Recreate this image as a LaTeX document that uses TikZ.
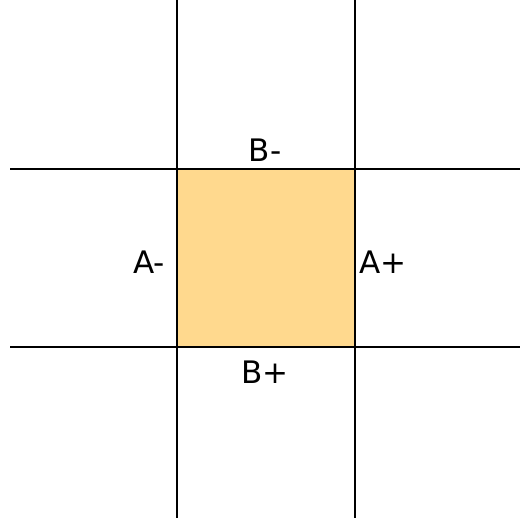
\documentclass[tikz,border=0pt]{standalone}
\usepackage{fontspec}
\setmainfont{DejaVu Sans}
\definecolor{fillc}{HTML}{FFD98E}
\begin{document}
\begin{tikzpicture}[x=1pt,y=-1pt,
  gridline/.style={draw=black,line width=1.5pt},
  lbl/.style={font=\fontsize{31}{35}\selectfont,inner sep=0pt}]
\useasboundingbox (0,0) rectangle (520,518);
\fill[fillc] (177,169) rectangle (355,347);
\coordinate (v1t) at (177,0); \coordinate (v1b) at (177,518);
\coordinate (v2t) at (355,0); \coordinate (v2b) at (355,518);
\coordinate (h1l) at (10,169); \coordinate (h1r) at (520,169);
\coordinate (h2l) at (10,347); \coordinate (h2r) at (520,347);
\draw[gridline] (v1t) -- (v1b);
\draw[gridline] (v2t) -- (v2b);
\draw[gridline] (h1l) -- (h1r);
\draw[gridline] (h2l) -- (h2r);
\node[lbl] (bm) at (265,150) {B-};
\node[lbl] (am) at (149,262) {A-};
\node[lbl] (ap) at (383,262) {A+};
\node[lbl] (bp) at (265,372) {B+};
\end{tikzpicture}
\end{document}
